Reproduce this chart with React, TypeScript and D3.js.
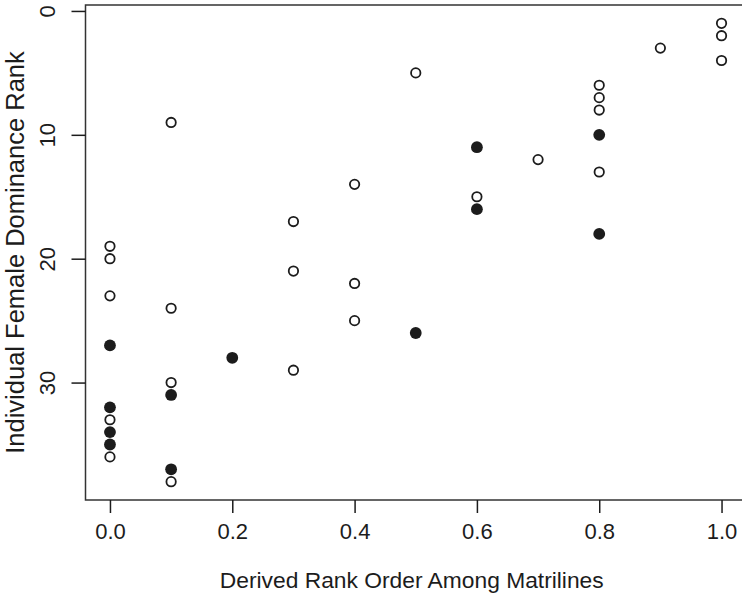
import React, { useEffect, useRef } from "react";
import * as d3 from "d3";

// derived rank order among matrilines (x) and individual female rank (y)
const matrilineRank = [
    0.0, 0.0, 0.0, 0.0, 0.0, 0.0, 0.0, 0.0, 0.0,
    0.1, 0.1, 0.1, 0.1, 0.1, 0.1,
    0.2,
    0.3, 0.3, 0.3,
    0.4, 0.4, 0.4,
    0.5, 0.5,
    0.6, 0.6, 0.6,
    0.7,
    0.8, 0.8, 0.8, 0.8, 0.8, 0.8,
    0.9,
    1.0, 1.0, 1.0
];
const femaleRank = [
    19, 20, 23, 27, 32, 33, 34, 35, 36,
    9, 24, 30, 31, 37, 38,
    28,
    17, 21, 29,
    14, 22, 25,
    5, 26,
    11, 15, 16,
    12,
    6, 7, 8, 10, 13, 18,
    3,
    1, 2, 4
];
const filled = [
    false, false, false, true, true, false, true, true, false,
    false, false, false, true, true, false,
    true,
    false, false, false,
    false, false, false,
    false, true,
    true, false, true,
    false,
    false, false, false, true, false, true,
    false,
    false, false, false
];

const xTicks = [0, 0.2, 0.4, 0.6, 0.8, 1.0];
const yTicks = [0, 10, 20, 30];

const width = 742;
const height = 594;
const font = "'Liberation Sans', Arial, Helvetica, sans-serif";
const ink = "#1c1c1c";

const App = () => {
    const ref = useRef<SVGSVGElement>(null);

    useEffect(() => {
        const svg = d3.select(ref.current);
        svg.selectAll("*").remove();

        // R style 4% padding on the data range
        const xScale = d3.scaleLinear().domain([-0.04, 1.04]).range([85.5, 746]);
        const yScale = d3.scaleLinear().domain([-0.48, 39.48]).range([5, 500]);

        const data = femaleRank.map((r, i) => ({ x: matrilineRank[i], y: r, f: filled[i] }));

        // box
        svg.append("rect")
            .attr("x", xScale(-0.04))
            .attr("y", yScale(-0.48))
            .attr("width", xScale(1.04) - xScale(-0.04))
            .attr("height", yScale(39.48) - yScale(-0.48))
            .attr("fill", "none")
            .attr("stroke", "#333")
            .attr("stroke-width", 1.5);

        // x axis
        const xAxis = d3.axisBottom(xScale)
            .tickValues(xTicks)
            .tickSize(13)
            .tickPadding(10)
            .tickFormat(d3.format(".1f"));
        const gx = svg.append("g")
            .attr("transform", `translate(0, ${yScale(39.48)})`)
            .call(xAxis);
        gx.select(".domain").remove();
        gx.selectAll("line").attr("stroke", ink).attr("stroke-width", 1.5);
        gx.selectAll("text")
            .attr("font-family", font)
            .attr("font-size", 22)
            .attr("fill", ink);

        // y axis (reversed, rotated labels)
        const yAxis = d3.axisLeft(yScale)
            .tickValues(yTicks)
            .tickSize(14)
            .tickFormat(d3.format("d"));
        const gy = svg.append("g")
            .attr("transform", `translate(${xScale(-0.04)}, 0)`)
            .call(yAxis);
        gy.select(".domain").remove();
        gy.selectAll("line").attr("stroke", ink).attr("stroke-width", 1.5);
        gy.selectAll("text")
            .attr("x", null)
            .attr("dy", null)
            .attr("transform", "translate(-31, 0) rotate(-90)")
            .attr("text-anchor", "middle")
            .attr("font-family", font)
            .attr("font-size", 22)
            .attr("fill", ink);

        // axis titles
        svg.append("text")
            .attr("x", (xScale(-0.04) + xScale(1.04)) / 2 - 4)
            .attr("y", 588)
            .attr("text-anchor", "middle")
            .attr("font-family", font)
            .attr("font-size", 22.8)
            .attr("fill", ink)
            .text("Derived Rank Order Among Matrilines");

        svg.append("text")
            .attr("transform", `translate(24, ${(yScale(-0.48) + yScale(39.48)) / 2}) rotate(-90)`)
            .attr("text-anchor", "middle")
            .attr("font-family", font)
            .attr("font-size", 25.5)
            .attr("fill", ink)
            .text("Individual Female Dominance Rank");

        // points
        svg.selectAll("circle.pt")
            .data(data)
            .enter()
            .append("circle")
            .attr("class", "pt")
            .attr("cx", d => xScale(d.x))
            .attr("cy", d => yScale(d.y))
            .attr("r", d => (d.f ? 5.9 : 4.7))
            .attr("fill", d => (d.f ? ink : "white"))
            .attr("stroke", ink)
            .attr("stroke-width", d => (d.f ? 0 : 1.8));
    }, []);

    return (
        <svg
            ref={ref}
            width={width}
            height={height}
            style={{ position: "absolute", left: 0, top: 0, background: "white" }}
        />
    );
};

export default App;
